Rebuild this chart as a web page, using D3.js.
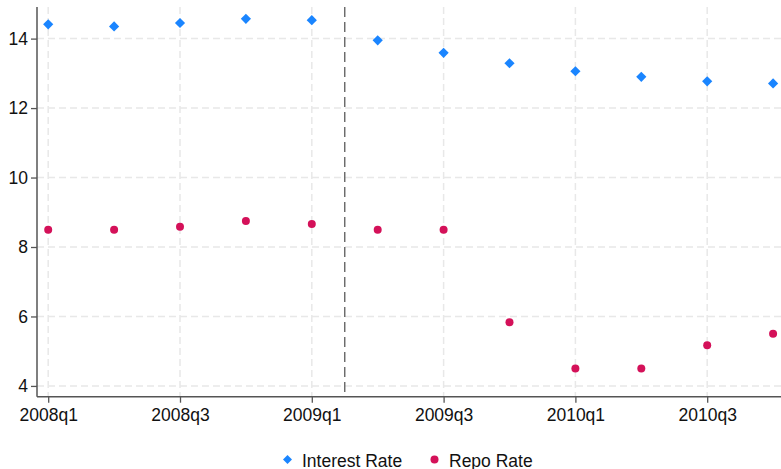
<!DOCTYPE html>
<html>
<head>
<meta charset="utf-8">
<script src="https://cdn.jsdelivr.net/npm/d3@7"></script>
<style>
  html, body { margin: 0; padding: 0; background: #fff; }
  svg { display: block; font-family: "Liberation Sans", Arial, Helvetica, sans-serif; }
</style>
</head>
<body>
<svg id="chart" width="781" height="469"></svg>
<script>
// Quarterly periods shown on the x axis
const quarters = ["2008q1","2008q2","2008q3","2008q4","2009q1","2009q2",
                  "2009q3","2009q4","2010q1","2010q2","2010q3","2010q4"];
// Lending interest rate (%)
const interestRate = [14.41, 14.35, 14.45, 14.57, 14.53, 13.95,
                      13.59, 13.29, 13.06, 12.90, 12.77, 12.71];
// Central bank repo rate (%)
const repoRate = [8.50, 8.50, 8.58, 8.75, 8.66, 8.50,
                  8.50, 5.83, 4.50, 4.50, 5.17, 5.50];
// Axis ticks
const yTicks = [4, 6, 8, 10, 12, 14];
const xTickLabels = ["2008q1","2008q3","2009q1","2009q3","2010q1","2010q3"];
// Policy break marked between 2009q1 and 2009q2
const breakAt = 4.5;

(function () {
  const svg = d3.select("#chart");
  const plotL = 37, plotR = 781, plotT = 7, plotB = 396.7;

  const x = d3.scaleLinear().domain([-0.17, 11.12]).range([plotL, plotR]);
  const y = d3.scaleLinear().domain([3.69, 14.91]).range([plotB, plotT]);
  const xIndex = q => quarters.indexOf(q);

  const blue = "#1a85ff", red = "#d41159";
  const gridColor = "#e8e8e8", axisColor = "#555";
  const fontSize = "17.5px";

  // Gridlines
  const grid = svg.append("g");
  grid.selectAll("line.h").data(yTicks).join("line").attr("class", "h")
    .attr("x1", plotL).attr("x2", plotR)
    .attr("y1", d => y(d)).attr("y2", d => y(d))
    .attr("stroke", gridColor).attr("stroke-width", 1.5)
    .attr("stroke-dasharray", "7,4");
  grid.selectAll("line.v").data(xTickLabels).join("line").attr("class", "v")
    .attr("x1", d => x(xIndex(d))).attr("x2", d => x(xIndex(d)))
    .attr("y1", plotT).attr("y2", plotB)
    .attr("stroke", gridColor).attr("stroke-width", 1.5)
    .attr("stroke-dasharray", "7,4");

  // Break line
  svg.append("line")
    .attr("x1", x(breakAt)).attr("x2", x(breakAt))
    .attr("y1", plotT).attr("y2", plotB)
    .attr("stroke", "#666").attr("stroke-width", 1.4)
    .attr("stroke-dasharray", "10,5");

  // Axes
  const yAxis = svg.append("g")
    .attr("transform", `translate(${plotL},0)`)
    .call(d3.axisLeft(y).tickValues(yTicks).tickSize(6).tickPadding(3).tickFormat(d3.format("d")));
  const xAxis = svg.append("g")
    .attr("transform", `translate(0,${plotB})`)
    .call(d3.axisBottom(x).tickValues(xTickLabels.map(xIndex)).tickSize(6).tickPadding(6)
          .tickFormat(i => quarters[i]));
  [yAxis, xAxis].forEach(g => {
    g.select(".domain").attr("stroke", axisColor).attr("stroke-width", 1.5);
    g.selectAll(".tick line").attr("stroke", axisColor).attr("stroke-width", 1.3);
    g.selectAll(".tick text").attr("fill", "#111").style("font-size", fontSize)
      .style("font-family", "'Liberation Sans', Arial, sans-serif");
  });
  yAxis.select(".domain").attr("d", `M0,${plotT}V${plotB}`);
  xAxis.select(".domain").attr("d", `M${plotL},0H${plotR}`);

  // Markers
  const diamond = d3.symbol().type(d3.symbolSquare).size(52);
  svg.append("g").selectAll("path").data(interestRate).join("path")
    .attr("d", diamond)
    .attr("transform", (d, i) => `translate(${x(i)},${y(d)}) rotate(45)`)
    .attr("fill", blue);
  svg.append("g").selectAll("circle").data(repoRate).join("circle")
    .attr("cx", (d, i) => x(i)).attr("cy", d => y(d)).attr("r", 4)
    .attr("fill", red);

  // Legend
  const legend = svg.append("g").style("font-size", fontSize).attr("fill", "#111");
  legend.append("path").attr("d", d3.symbol().type(d3.symbolSquare).size(40))
    .attr("transform", "translate(287.5,459.5) rotate(45)").attr("fill", blue);
  legend.append("text").attr("x", 302).attr("y", 466.5).text("Interest Rate");
  legend.append("circle").attr("cx", 434.5).attr("cy", 459.5).attr("r", 4).attr("fill", red);
  legend.append("text").attr("x", 449).attr("y", 466.5).text("Repo Rate");
})();
</script>
</body>
</html>
